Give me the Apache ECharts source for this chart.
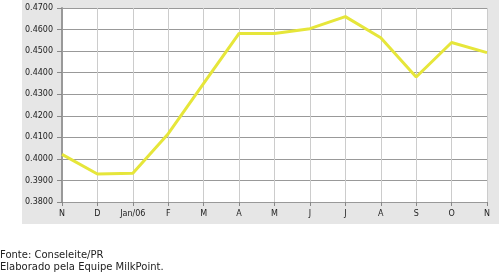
<!DOCTYPE html>
<html><head><meta charset="utf-8">
<script src="https://cdn.jsdelivr.net/npm/echarts@6/dist/echarts.min.js"></script>
<style>html,body{margin:0;padding:0;background:#fff}#c{width:499px;height:276px}</style>
</head><body><div id="c"></div>
<script>
const categories = ['N','D','Jan/06','F','M','A','M','J','J','A','S','O','N'];
const values = [0.4021,0.3930,0.3933,0.4117,0.4350,0.4582,0.4582,0.4604,0.4660,0.4562,0.4380,0.4540,0.4493];
const yMin = 0.38, yMax = 0.47, yStep = 0.01;
const footer = ['Fonte: Conseleite/PR','Elaborado pela Equipe MilkPoint.'];

const chart = echarts.init(document.getElementById('c'), null, {renderer:'canvas'});
chart.setOption({
  animation:false,
  backgroundColor:'#fff',
  graphic:[
    {type:'rect', z:-10, silent:true, shape:{x:22,y:0,width:477,height:224}, style:{fill:'#e6e6e6'}},
    {type:'text', left:0, top:249, style:{text:footer.join('\n'), font:'10px "DejaVu Sans"', fill:'#222', lineHeight:12}}
  ],
  grid:{left:62, top:8, width:425, height:194, show:true, backgroundColor:'#fff', borderWidth:0},
  xAxis:{type:'category', data:categories, boundaryGap:false,
    axisLine:{show:true, lineStyle:{color:'#999', width:1}},
    axisTick:{show:true, alignWithLabel:true, length:4, lineStyle:{color:'#888'}},
    axisLabel:{color:'#222', fontSize:8, fontFamily:'DejaVu Sans', margin:8, interval:0},
    splitLine:{show:true, lineStyle:{color:'#cccccc', width:1}}},
  yAxis:{type:'value', min:yMin, max:yMax, interval:yStep,
    axisLine:{show:true, lineStyle:{color:'#999', width:2}},
    axisTick:{show:true, length:5, lineStyle:{color:'#888'}},
    axisLabel:{color:'#222', fontSize:8, fontFamily:'DejaVu Sans', margin:9, formatter:v=>v.toFixed(4)},
    splitLine:{show:true, lineStyle:{color:'#999999', width:1}}},
  series:[{type:'line', data:values, symbol:'none', lineStyle:{color:'#e6e63a', width:3}}]
});
</script></body></html>
